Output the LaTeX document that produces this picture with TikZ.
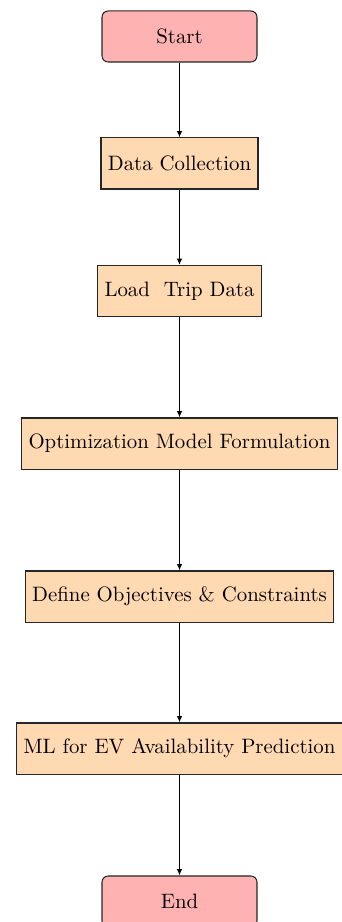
\documentclass[tikz,border=0pt]{standalone}
\usetikzlibrary{arrows.meta}
\begin{document}
\begin{tikzpicture}[x=0.48pt,y=-0.48pt,
  termbox/.style={draw=black!85,fill=red!30,rounded corners=3pt,minimum width=74.4pt,minimum height=24.5pt,inner sep=3.3pt,line width=0.5pt},
  procbox/.style={draw=black!85,fill=orange!30,minimum height=24.5pt,inner sep=3.3pt,line width=0.5pt},
  flow/.style={-{Latex[length=3pt,width=2.6pt]},line width=0.6pt}]
\useasboundingbox (0,0) rectangle (341,922);
\node[termbox] (start) at (179.5,36.5) {Start};
\node[procbox] (dc) at (179.5,163.5) {Data Collection};
\node[procbox] (ltd) at (179.5,291) {Load\ \ Trip Data};
\node[procbox] (omf) at (179.5,443.5) {Optimization Model Formulation};
\node[procbox] (doc) at (179.5,596.5) {Define Objectives \& Constraints};
\node[procbox] (ml) at (179.5,748.5) {ML for EV Availability Prediction};
\node[termbox] (end) at (179.5,901.5) {End};
\draw[flow] (start) -- (dc);
\draw[flow] (dc) -- (ltd);
\draw[flow] (ltd) -- (omf);
\draw[flow] (omf) -- (doc);
\draw[flow] (doc) -- (ml);
\draw[flow] (ml) -- (end);
\end{tikzpicture}
\end{document}
